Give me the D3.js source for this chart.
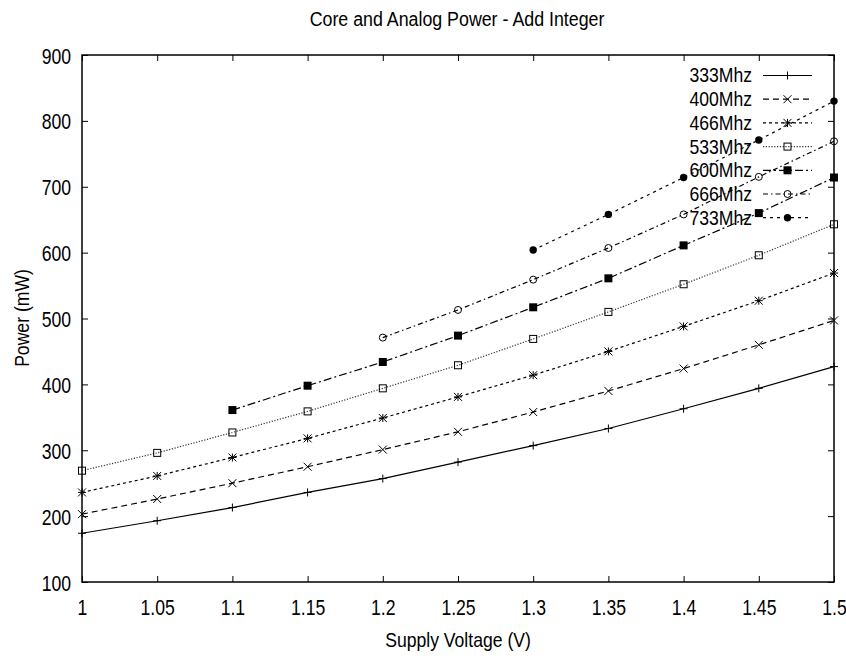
<!DOCTYPE html>
<html>
<head>
<meta charset="utf-8">
<script src="https://cdn.jsdelivr.net/npm/d3@7"></script>
<style>
  body { margin: 0; background: #fff; }
  text { font-family: "Liberation Sans", Arial, sans-serif; fill: #000; }
</style>
</head>
<body>
<svg id="chart" width="846" height="660"></svg>
<script>
// supply voltage (V)
const voltages = [1.0, 1.05, 1.1, 1.15, 1.2, 1.25, 1.3, 1.35, 1.4, 1.45, 1.5];

// power (mW) per clock, null where not measured
const p333 = [174, 193, 213, 236, 257, 282, 307, 333, 363, 394, 427];
const p400 = [203, 226, 250, 275, 301, 328, 358, 390, 424, 460, 497];
const p466 = [236, 261, 289, 318, 349, 381, 414, 450, 488, 527, 569];
const p533 = [269, 296, 327, 359, 394, 429, 469, 510, 552, 596, 643];
const p600 = [null, null, 361, 398, 434, 474, 517, 561, 611, 660, 714];
const p666 = [null, null, null, null, 471, 513, 559, 607, 658, 715, 769];
const p733 = [null, null, null, null, null, null, 604, 658, 714, 771, 830];

const seriesNames = ["333Mhz", "400Mhz", "466Mhz", "533Mhz", "600Mhz", "666Mhz", "733Mhz"];
const seriesValues = [p333, p400, p466, p533, p600, p666, p733];

const yTicks = [100, 200, 300, 400, 500, 600, 700, 800, 900];

// gnuplot-ish line types and point types
const dashes = [null, "6,4", "3,3", "1.2,1.6", "8,3,2,3", "5,3,1.5,3", "3,4"];
const points = ["plus", "cross", "star", "box", "fbox", "circle", "fcircle"];

const svg = d3.select("#chart");
const margin = { left: 82, right: 12, top: 55, bottom: 78 };
const W = 846, H = 660;

const x = d3.scaleLinear().domain([1, 1.5]).range([margin.left, W - margin.right]);
const y = d3.scaleLinear().domain([100, 900]).range([H - margin.bottom, margin.top]);

const fmt = d => String(+d.toFixed(2));

// axes, ticks pointing inwards and mirrored on top/right
const gx = svg.append("g")
  .attr("transform", `translate(0,${y(100)})`)
  .call(d3.axisBottom(x).tickValues(voltages).tickFormat(fmt).tickSize(-6));
gx.selectAll("text")
  .attr("y", 33).attr("dy", null)
  .attr("transform", "scale(0.8,1)")
  .style("font-size", "22px");

svg.append("g")
  .attr("transform", `translate(0,${y(900)})`)
  .call(d3.axisTop(x).tickValues(voltages).tickFormat("").tickSize(-6));

const gy = svg.append("g")
  .attr("transform", `translate(${x(1)},0)`)
  .call(d3.axisLeft(y).tickValues(yTicks).tickFormat(d3.format("d")).tickSize(-6));
gy.selectAll("text")
  .attr("x", -11 / 0.8).attr("y", 8).attr("dy", null)
  .attr("transform", "scale(0.8,1)")
  .style("font-size", "22px");

svg.append("g")
  .attr("transform", `translate(${x(1.5)},0)`)
  .call(d3.axisRight(y).tickValues(yTicks).tickFormat("").tickSize(-6));

svg.selectAll(".domain").remove();
svg.selectAll(".tick line").attr("stroke", "#000").attr("stroke-width", 1);

// frame
svg.append("rect")
  .attr("x", x(1)).attr("y", y(900))
  .attr("width", x(1.5) - x(1)).attr("height", y(100) - y(900))
  .attr("fill", "none").attr("stroke", "#000").attr("stroke-width", 1.5);

// marker shapes
function drawPoint(g, type, cx, cy) {
  const s = 4;
  if (type === "plus") {
    g.append("path").attr("d", `M${cx - s},${cy}H${cx + s}M${cx},${cy - s}V${cy + s}`)
      .attr("stroke", "#000").attr("stroke-width", 1);
  } else if (type === "cross") {
    g.append("path").attr("d", `M${cx - s},${cy - s}L${cx + s},${cy + s}M${cx - s},${cy + s}L${cx + s},${cy - s}`)
      .attr("stroke", "#000").attr("stroke-width", 1);
  } else if (type === "star") {
    g.append("path").attr("d", `M${cx - s},${cy - s}L${cx + s},${cy + s}M${cx - s},${cy + s}L${cx + s},${cy - s}M${cx - s},${cy}H${cx + s}M${cx},${cy - s}V${cy + s}`)
      .attr("stroke", "#000").attr("stroke-width", 1);
  } else if (type === "box") {
    g.append("rect").attr("x", cx - 3.5).attr("y", cy - 3.5).attr("width", 7).attr("height", 7)
      .attr("fill", "none").attr("stroke", "#000").attr("stroke-width", 1);
  } else if (type === "fbox") {
    g.append("rect").attr("x", cx - 4).attr("y", cy - 4).attr("width", 8).attr("height", 8)
      .attr("fill", "#000");
  } else if (type === "circle") {
    g.append("circle").attr("cx", cx).attr("cy", cy).attr("r", 3.5)
      .attr("fill", "none").attr("stroke", "#000").attr("stroke-width", 1);
  } else if (type === "fcircle") {
    g.append("circle").attr("cx", cx).attr("cy", cy).attr("r", 3.7).attr("fill", "#000");
  }
}

const line = d3.line()
  .defined(d => d.v != null)
  .x(d => x(d.x))
  .y(d => y(d.v));

seriesValues.forEach((vals, i) => {
  const data = voltages.map((v, j) => ({ x: v, v: vals[j] }));
  const g = svg.append("g");
  g.append("path")
    .datum(data)
    .attr("d", line)
    .attr("fill", "none")
    .attr("stroke", i === 3 ? "#333" : "#000")
    .attr("stroke-width", 1.2)
    .attr("stroke-dasharray", dashes[i]);
  data.filter(d => d.v != null).forEach(d => drawPoint(g, points[i], x(d.x), y(d.v)));
});

// legend (no box, drawn over the lines like gnuplot)
const legend = svg.append("g");
seriesNames.forEach((name, i) => {
  const ly = 75.5 + i * 23.7;
  legend.append("text")
    .attr("x", 752 / 0.88).attr("y", ly + 7)
    .attr("transform", "scale(0.88,1)")
    .attr("text-anchor", "end")
    .style("font-size", "20px")
    .text(name);
  legend.append("path")
    .attr("d", `M763,${ly}H812`)
    .attr("stroke", i === 3 ? "#333" : "#000")
    .attr("stroke-width", 1.2)
    .attr("stroke-dasharray", dashes[i]);
  drawPoint(legend, points[i], 787.5, ly);
});

// titles
svg.append("text")
  .attr("transform", "translate(457,25.5) scale(0.89,1)")
  .attr("text-anchor", "middle")
  .style("font-size", "20px")
  .text("Core and Analog Power - Add Integer");

svg.append("text")
  .attr("transform", "translate(458,647) scale(0.88,1)")
  .attr("text-anchor", "middle")
  .style("font-size", "20px")
  .text("Supply Voltage (V)");

svg.append("text")
  .attr("transform", "translate(29,318) rotate(-90) scale(0.88,1)")
  .attr("text-anchor", "middle")
  .style("font-size", "20px")
  .text("Power (mW)");
</script>
</body>
</html>
